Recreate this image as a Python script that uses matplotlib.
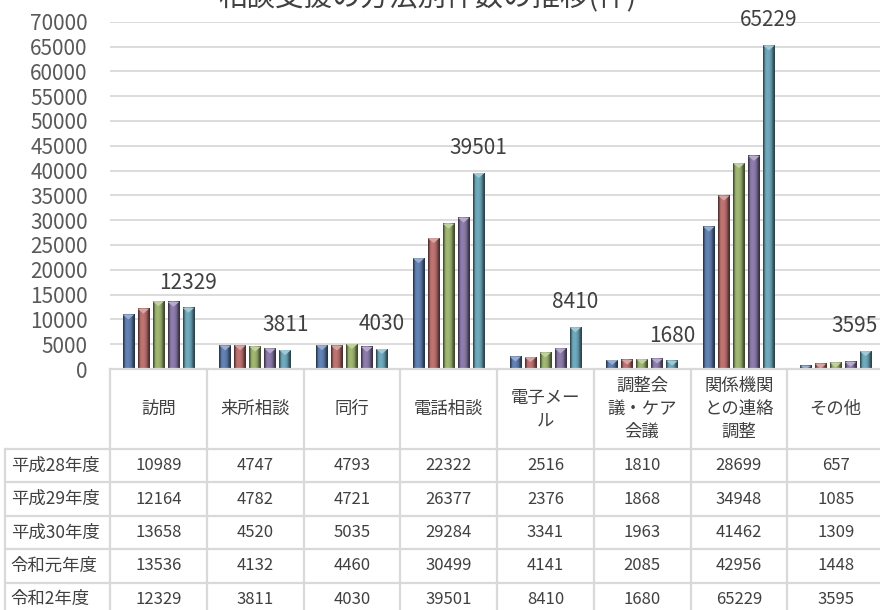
import numpy as np
import matplotlib
matplotlib.use("Agg")
import matplotlib.pyplot as plt
from matplotlib.colors import to_rgb

plt.rcParams['font.family'] = ['Noto Sans CJK JP', 'DejaVu Sans']

# data
categories = ['訪問', '来所相談', '同行', '電話相談', '電子メー\nル',
              '調整会\n議・ケア\n会議', '関係機関\nとの連絡\n調整', 'その他']
years = ['平成28年度', '平成29年度', '平成30年度', '令和元年度', '令和2年度']
h28 = [10989, 4747, 4793, 22322, 2516, 1810, 28699, 657]
h29 = [12164, 4782, 4721, 26377, 2376, 1868, 34948, 1085]
h30 = [13658, 4520, 5035, 29284, 3341, 1963, 41462, 1309]
r1 = [13536, 4132, 4460, 30499, 4141, 2085, 42956, 1448]
r2 = [12329, 3811, 4030, 39501, 8410, 1680, 65229, 3595]
series = [h28, h29, h30, r1, r2]
colors = ['#6283B5', '#C07472', '#A0B872', '#8F7DAE', '#6FABBE']

txt = '#404040'
grid = '#D9D9D9'

W, H = 880, 610
fig = plt.figure(figsize=(8.8, 6.1), dpi=100)

# main chart area (pixel layout)
x0, x1 = 110, 884
y0, ytop = 369, 21.7
ax = fig.add_axes([x0 / W, (H - y0) / H, (x1 - x0) / W, (y0 - ytop) / H])

n = len(categories)
x = np.arange(n)
step = 0.155
bw = 0.12

# bevel-like horizontal shading
shade = np.array([0.45, 0.9, 1.0, 1.0, 0.95, 0.85, 0.6, 0.4])


def bevel_bar(xc, h, col):
    base = np.array(to_rgb(col))
    grad = np.clip(base[None, :] * shade[:, None], 0, 1)[None, :, :]
    ax.imshow(grad, extent=[xc - bw / 2, xc + bw / 2, 0, h], aspect='auto',
              interpolation='bilinear', zorder=3)
    # little top bevel
    tri_h = min(h, 1000)
    lite = np.clip(base + (1 - base) * 0.35, 0, 1)
    ax.fill([xc - bw / 2, xc + bw / 2, xc], [h, h, h - tri_h], color=lite, zorder=4, lw=0)


for s, (vals, col) in enumerate(zip(series, colors)):
    for i, v in enumerate(vals):
        bevel_bar(x[i] + (s - 2) * step, v, col)

# labels for latest year
labels = []
for i, v in enumerate(r2):
    labels.append(ax.annotate(str(v), (x[i] + 2 * step, v), xytext=(0, 18),
                              textcoords='offset points', ha='center', va='center',
                              fontsize=15, color=txt, zorder=5))

ax.set_xlim(-0.5, n - 0.5)
ax.set_ylim(0, 70000)
ax.set_yticks(np.arange(0, 70001, 5000))
ax.set_xticks([])
ax.yaxis.grid(True, color=grid, lw=1.3, zorder=0)
ax.set_axisbelow(True)
for sp in ax.spines.values():
    sp.set_visible(False)
ax.tick_params(axis='y', length=0, pad=16, labelsize=15, labelcolor='#595959')

fig.text(427 / W, 1 + 3 / H, '相談支援の方法別件数の推移(件)', ha='center', va='center',
         fontsize=20.5, color=txt)

# data table below the chart
hdr_w = 105 / ((x1 - x0) / n)
tab_h = H - y0
tax = fig.add_axes([5 / W, 0, (x1 - 5) / W, tab_h / H])
tax.set_xlim(-0.5 - hdr_w, n - 0.5)
tax.set_ylim(tab_h, 0)
tax.axis('off')
head_h = 80
row_h = 33.4
bottom = head_h + row_h * len(years)
lw = 1.6
for k in range(n + 1):
    tax.plot([k - 0.5, k - 0.5], [0, bottom], color=grid, lw=lw, clip_on=False)
tax.plot([-0.5 - hdr_w] * 2, [head_h, bottom], color=grid, lw=lw, clip_on=False)
tax.plot([-0.5, n - 0.5], [0, 0], color=grid, lw=lw, clip_on=False)
for r in range(len(years) + 1):
    yy = head_h + r * row_h
    tax.plot([-0.5 - hdr_w, n - 0.5], [yy, yy], color=grid, lw=lw, clip_on=False)

for i, c in enumerate(categories):
    tax.text(x[i], head_h / 2, c, ha='center', va='center', fontsize=12.5,
             color=txt, linespacing=1.35)
for r, (yr, vals) in enumerate(zip(years, series)):
    yc = head_h + (r + 0.5) * row_h
    tax.text(-0.5 - hdr_w + 0.06, yc, yr, ha='left', va='center', fontsize=12.5, color=txt)
    for i, v in enumerate(vals):
        tax.text(x[i], yc, str(v), ha='center', va='center', fontsize=12, color=txt)

# keep data labels inside the figure, as the spreadsheet does
fig.canvas.draw()
for lab in labels:
    bb = lab.get_window_extent()
    over = bb.x1 - (W - 2)
    if over > 0:
        lab.set_position((-over * 72 / 100, 18))

fig.savefig('out.png', dpi=100, facecolor='white')
